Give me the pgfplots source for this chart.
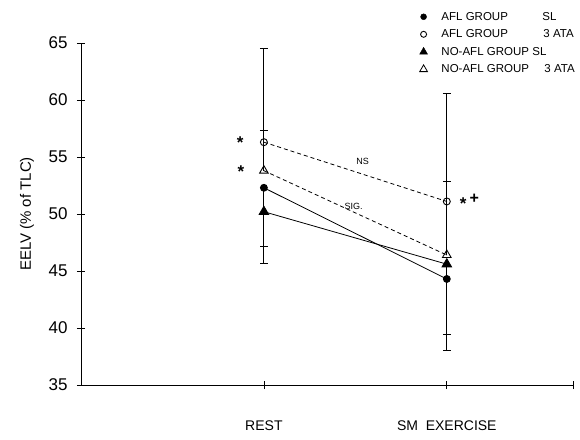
\documentclass[border=0pt]{standalone}
\usepackage{pgfplots}
\pgfplotsset{compat=1.18}
\usepackage{fontspec}
\setmainfont{Liberation Sans}
\begin{document}
\begin{tikzpicture}[x=1pt,y=1pt]
\begin{axis}[
  name=ax,
  scale only axis,
  width=492pt, height=342pt,
  xmin=0, xmax=2.69,
  ymin=35, ymax=65,
  axis x line*=bottom, axis y line*=left,
  axis line style={-, line width=0.7pt},
  xtick={1,2,2.69},
  xticklabels={REST, SM\ \ EXERCISE, {}},
  ytick={35,40,...,65},
  tick align=center,
  major tick length=8pt,
  tick style={line width=0.7pt, black},
  /pgf/number format/assume math mode=true,
  yticklabel style={font=\fontsize{17}{20}\selectfont, xshift=-6pt},
  xticklabel style={font=\fontsize{14}{17}\selectfont, yshift=-28pt},
  ylabel={EELV (\% of TLC)},
  every axis y label/.style={at={(axis description cs:0,0.5)}, xshift=-54pt, rotate=90, anchor=center,
     font=\fontsize{15}{18}\selectfont},
  clip=false,
  legend style={at={(rel axis cs:0.688,1.097)}, anchor=north west, draw=none, fill=none,
    font=\fontsize{11.5}{13}\selectfont, row sep=4pt, inner sep=0pt},
  legend cell align=left,
  error bars/error bar style={line width=1.1pt, draw=black, solid},
  error bars/error mark options={rotate=90, draw=black, solid, mark size=4pt, line width=0.8pt},
]
% legend images
\addlegendimage{only marks, mark=*, mark size=3pt, black}
\addlegendentry{\hspace*{12pt}\makebox[101pt][l]{AFL GROUP}SL}
\addlegendimage{only marks, mark=o, mark size=3pt, black, line width=0.9pt}
\addlegendentry{\hspace*{12pt}\makebox[102pt][l]{AFL GROUP}3 ATA}
\addlegendimage{only marks, mark=triangle*, mark size=4.5pt, black}
\addlegendentry{\hspace*{12pt}\makebox[91pt][l]{NO-AFL GROUP}SL}
\addlegendimage{only marks, mark=triangle, mark size=4.5pt, black, line width=0.8pt}
\addlegendentry{\hspace*{12pt}\makebox[103pt][l]{NO-AFL GROUP}3 ATA}
% error bars (one-sided)
\addplot[forget plot, black, only marks, mark=*, mark size=0.1pt, error bars/.cd, y dir=plus, y explicit]
  coordinates {(1,56.3) +- (0,8.2) (2,51.1) +- (0,9.5)};
\addplot[forget plot, black, only marks, mark=*, mark size=0.1pt, error bars/.cd, y dir=plus, y explicit]
  coordinates {(1,53.8) +- (0,3.5) (2,46.4) +- (0,6.5)};
\addplot[forget plot, black, only marks, mark=*, mark size=0.1pt, error bars/.cd, y dir=minus, y explicit]
  coordinates {(1,52.3) +- (0,6.6) (2,44.3) +- (0,6.3)};
\addplot[forget plot, black, only marks, mark=*, mark size=0.1pt, error bars/.cd, y dir=minus, y explicit]
  coordinates {(1,50.2) +- (0,3.0) (2,45.6) +- (0,6.2)};
% lines
\addplot[forget plot, black, line width=0.8pt, mark=*, mark size=3.5pt]
  coordinates {(1,52.3) (2,44.3)};
\addplot[forget plot, black, line width=0.8pt, dash pattern=on 4pt off 3pt, mark=o, mark size=3.5pt, mark options={solid, fill=white, line width=0.9pt}]
  coordinates {(1,56.3) (2,51.1)};
\addplot[forget plot, black, line width=0.8pt, mark=triangle*, mark size=5.5pt, mark options={solid}]
  coordinates {(1,50.2) (2,45.6)};
\addplot[forget plot, black, line width=0.8pt, dash pattern=on 4pt off 3pt, mark=triangle, mark size=5pt, mark options={solid, fill=white, line width=0.9pt}]
  coordinates {(1,53.8) (2,46.4)};
% annotations
\node[font=\fontsize{17}{17}\selectfont\bfseries, yshift=-3.5pt] at (axis cs:0.87,56.6) {*};
\node[font=\fontsize{17}{17}\selectfont\bfseries, yshift=-3.5pt] at (axis cs:0.875,54.0) {*};
\node[font=\fontsize{17}{17}\selectfont\bfseries, yshift=-3.5pt] at (axis cs:2.09,51.2) {*};
\node[font=\fontsize{16}{16}\selectfont\bfseries] at (axis cs:2.15,51.3) {+};
\node[font=\fontsize{9}{9}\selectfont] at (axis cs:1.54,54.65) {NS};
\node[font=\fontsize{9}{9}\selectfont] at (axis cs:1.49,50.65) {SIG.};
\end{axis}
\pgfresetboundingbox
\path ([shift={(-81pt,-54pt)}]ax.south west) rectangle ([shift={(7pt,43pt)}]ax.north east);
\end{tikzpicture}
\end{document}
